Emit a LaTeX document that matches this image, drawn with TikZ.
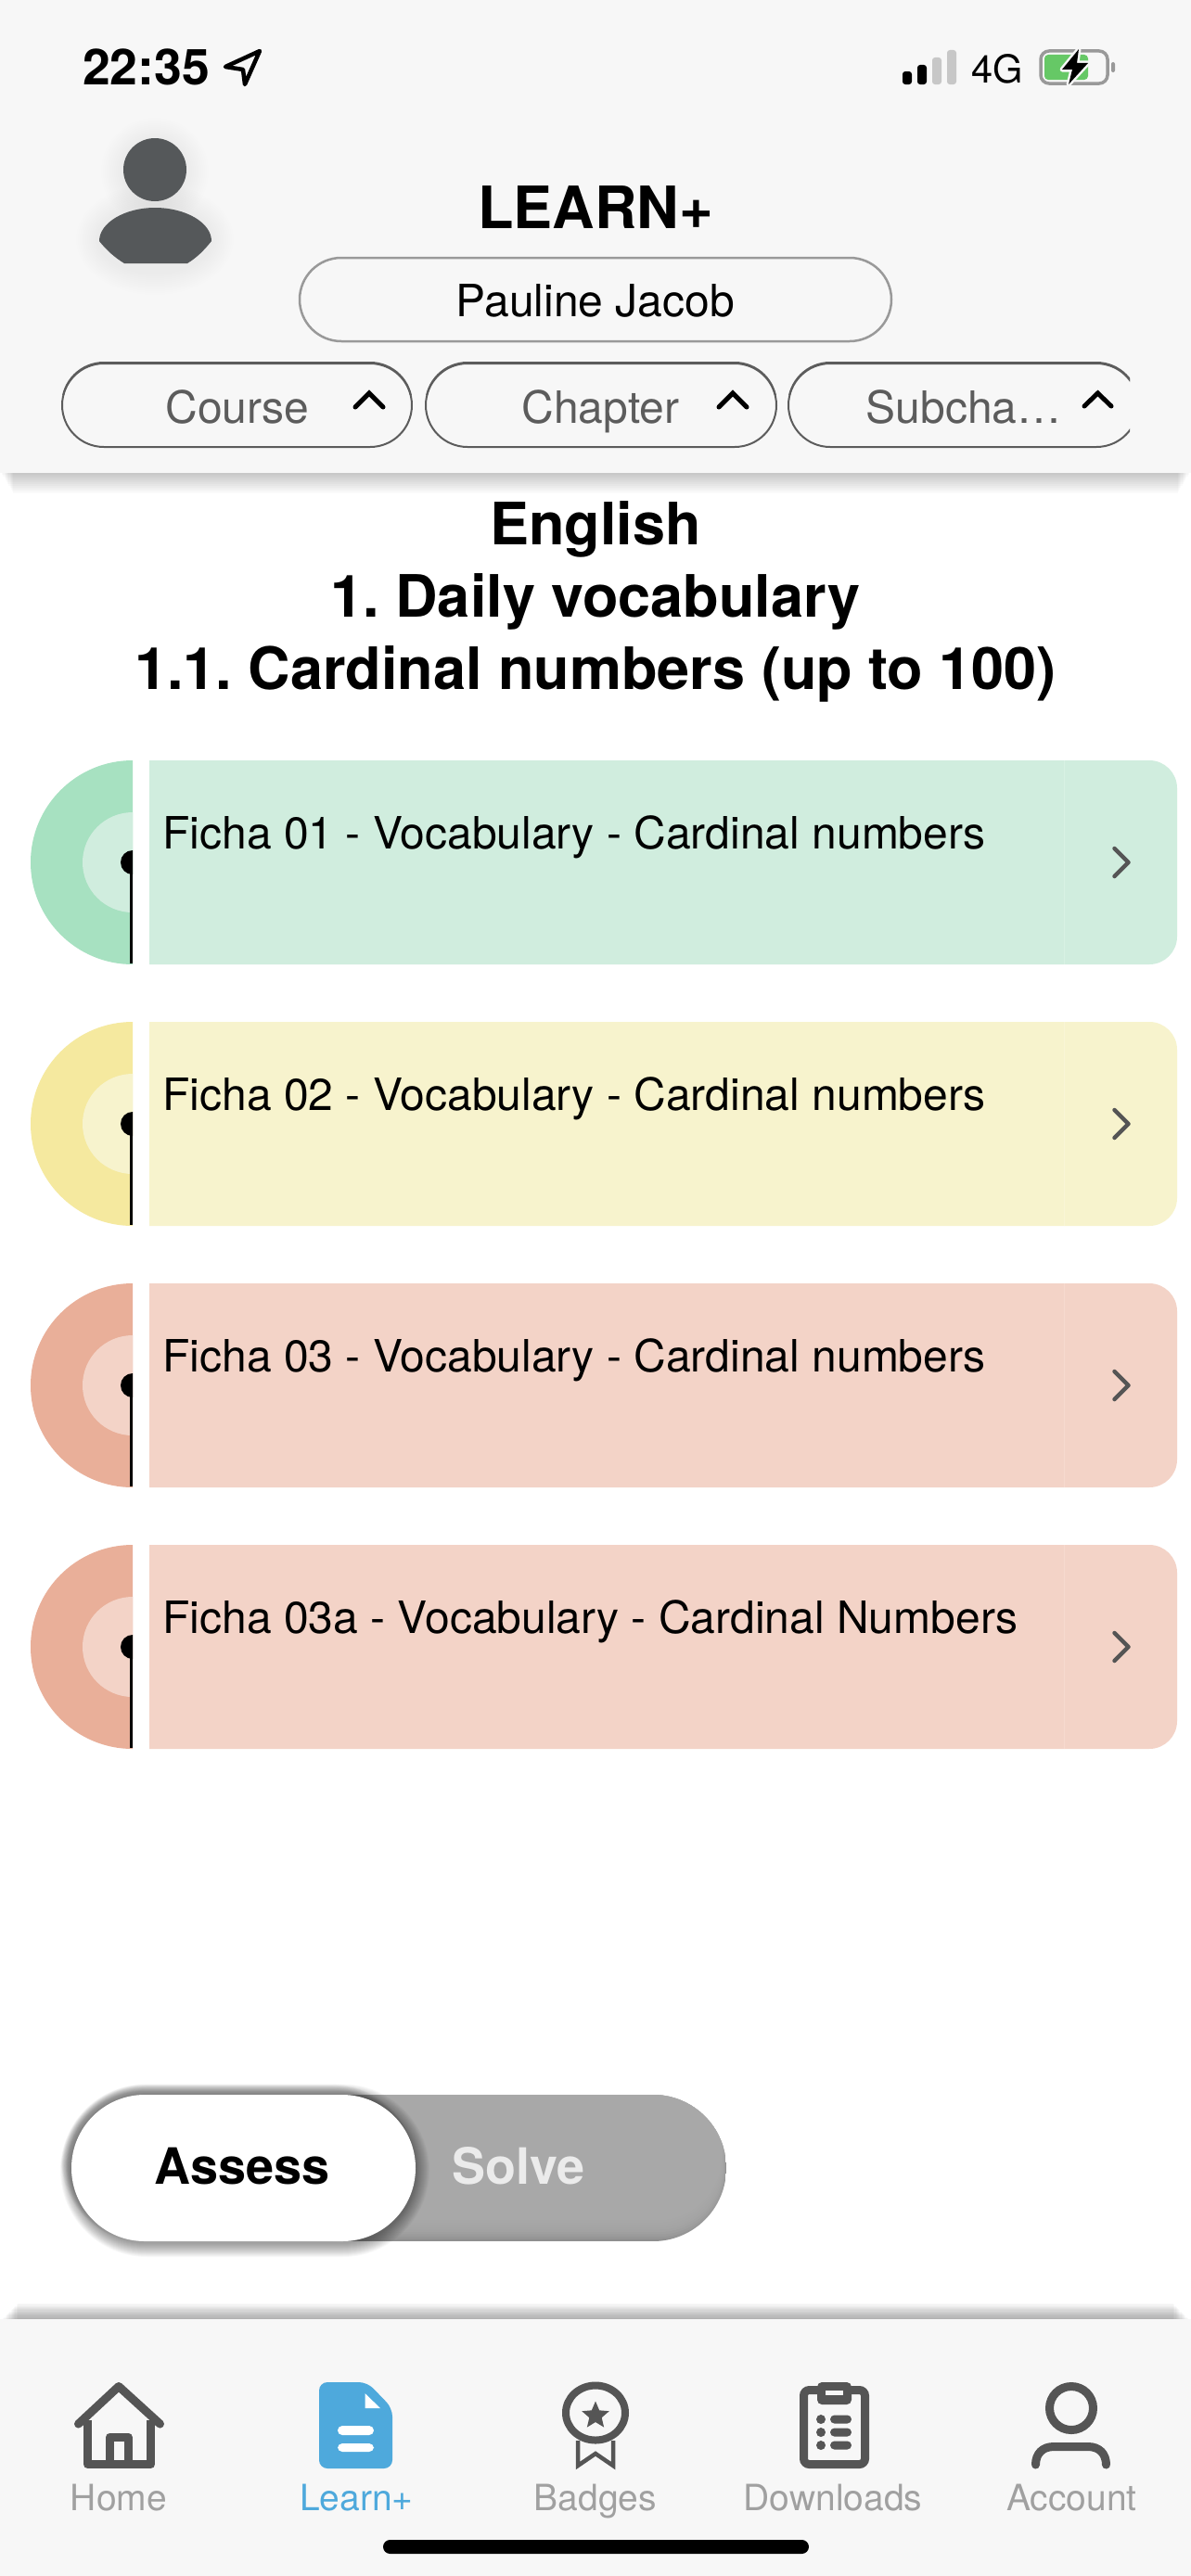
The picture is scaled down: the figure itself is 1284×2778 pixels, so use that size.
\documentclass[tikz,border=0pt]{standalone}
\usepackage{fontspec}
\setmainfont{TeX Gyre Heros}
\usetikzlibrary{shapes.geometric}
\definecolor{barbg}{HTML}{F7F7F7}
\definecolor{pillgray}{HTML}{5C5C5C}
\definecolor{pauline}{HTML}{999999}
\definecolor{icon}{HTML}{555555}
\definecolor{tablabel}{HTML}{A0A0A0}
\definecolor{tabblue}{HTML}{4EA9DC}
\definecolor{avatar}{HTML}{55585A}
\definecolor{battgreen}{HTML}{66C866}
\definecolor{greenA}{HTML}{A7E1C1}
\definecolor{greenB}{HTML}{D0EDDE}
\definecolor{greenL}{HTML}{D8F1E4}
\definecolor{yellowA}{HTML}{F5E99F}
\definecolor{yellowB}{HTML}{F7F3CD}
\definecolor{yellowL}{HTML}{F9F5D6}
\definecolor{redA}{HTML}{E9AF99}
\definecolor{redB}{HTML}{F3D3C7}
\definecolor{redL}{HTML}{F6DACF}
\newcommand\fs[1]{\fontsize{#1}{#1}\selectfont}
\tikzset{
  x=1pt,y=-1pt,
  txt/.style={inner sep=0pt,outer sep=0pt,anchor=base},
  txtw/.style={inner sep=0pt,outer sep=0pt,anchor=base west},
  pilltext/.style={txt,text=pillgray,font=\fs{48}},
  pillbox/.style={draw=pillgray,line width=2pt,rounded corners=45pt},
  chev/.style={line width=5pt,line cap=round,line join=miter,draw=black},
  title/.style={txt,font=\fs{63}\bfseries,text=black},
  ficha/.style={txtw,font=\fs{48},text=black},
  tab/.style={txt,font=\fs{39},text=tablabel},
  ico/.style={draw=icon,line width=9pt,line join=round,line cap=round},
}
% #1 left x, #2 right x, #3 clip right x
\newcommand\pillshape[3]{%
  \begin{scope}
    \clip (#1-10,380) rectangle (#3,495);
    \draw[pillbox] (#1,392) rectangle (#2,482);
    \begin{scope}
      \clip (#1-10,380) rectangle (#3,425);
      \draw[pillbox] (#1,391) rectangle (#2,482);
    \end{scope}
  \end{scope}
}
% #1 top y, #2 outer colour, #3 card colour, #4 divider colour, #5 text, #6 name
\newcommand\cardrow[6]{%
  \begin{scope}
    \clip (0,#1-10) rectangle (143,#1+230);
    \fill[#2] (143,#1+110) circle[radius=110pt];
    \fill[#3] (143,#1+110) circle[radius=54pt];
    \fill[black] (143,#1+110) circle[radius=13pt];
  \end{scope}
  \fill[black] (139.5,#1+110) rectangle (143,#1+219);
  \begin{scope}
    \clip (161,#1) rectangle (1269,#1+220);
    \fill[#3,rounded corners=30pt] (100,#1) rectangle (1269,#1+220);
    \draw[#4,line width=1pt] (1147,#1) -- (1147,#1+220);
  \end{scope}
  \node[ficha] (#6) at (175.5,#1+95) {#5};
  \draw[line width=4.5pt,line cap=round,line join=round,draw=icon]
    (1201.5,#1+95) -- (1216.5,#1+110) -- (1201.5,#1+125);
}
\begin{document}
\frenchspacing
\begin{tikzpicture}
\useasboundingbox (0,0) rectangle (1284,2778);
\fill[white] (0,0) rectangle (1284,2778);
% header shadow
\foreach \i in {1,...,11} {\fill[black,opacity=.018] (1+\i*1.2,490) rectangle (1283-\i*1.2,510+\i*2);}
\fill[barbg] (0,0) rectangle (1284,510);
% status bar
\node[txtw,font=\fs{53.5}\bfseries] (clock) at (89,91) {22:35};
\draw[line width=4.5pt,line join=round,draw=black] (280,55) -- (243,72) -- (262,75) -- (264,91) -- cycle;
\fill[black,rounded corners=3pt] (973,77) rectangle (983,91);
\fill[black,rounded corners=3pt] (989,70) rectangle (999,91);
\fill[black!22,rounded corners=3pt] (1005,62) rectangle (1015,91);
\fill[black!22,rounded corners=3pt] (1021,54) rectangle (1031,91);
\node[txtw,font=\fs{41.5}] (net) at (1047,89) {4G};
\draw[black!40,line width=3.5pt,rounded corners=9pt] (1122,55) rectangle (1194,90);
\fill[black!40,rounded corners=2pt] (1198,67) rectangle (1202,78);
\fill[battgreen,rounded corners=4pt] (1126,59) rectangle (1173,86);
\draw[barbg,line width=5pt,line join=round,fill=black] (1163,53) -- (1145,75) -- (1156,75) -- (1152,91) -- (1173,68) -- (1161,68) -- cycle;
\fill[black] (1163,53) -- (1145,75) -- (1156,75) -- (1152,91) -- (1173,68) -- (1161,68) -- cycle;
% avatar
\foreach \i in {2,4,...,24} {
  \fill[black,opacity=.003] (167,185) circle[radius={34pt+\i pt}];
  \fill[black,opacity=.004] (167,258) ellipse[x radius={61pt+\i pt},y radius={36pt+\i pt}];
}
\fill[avatar] (167,183) circle[radius=34pt];
\fill[avatar] (107,260) .. controls (107,240) and (135,224) .. (167,224) .. controls (200,224) and (228,240) .. (228,260)
   .. controls (220,270) and (212,278) .. (202,284) -- (134,284) .. controls (124,278) and (115,270) .. (107,260) -- cycle;
% title
\node[txt,font=\fs{63}\bfseries] (learn) at (642,246) {LEARN+};
\draw[pauline,line width=2.5pt,rounded corners=45pt] (323,278) rectangle (961,368);
\node[txt,font=\fs{48}] (name) at (642,341) {Pauline Jacob};
% pills
\pillshape{67}{444}{460}
\node[pilltext] (course) at (256,456) {Course};
\draw[chev] (383,439) -- (398,424) -- (413,439);
\pillshape{459}{837}{848}
\node[pilltext] (chapter) at (647.5,456) {Chapter};
\draw[chev] (775,439) -- (790,424) -- (805,439);
\pillshape{850}{1227}{1218}
\node[pilltext] (subcha) at (1039,456) {Subcha…};
\draw[chev] (1169,438) -- (1183.5,424) -- (1198,438);
% headings
\node[title] (h1) at (642,587) {English};
\node[title] (h2) at (642,665) {1. Daily vocabulary};
\node[title] (h3) at (642,743) {1.1. Cardinal numbers (up to 100)};
% cards
\cardrow{820}{greenA}{greenB}{greenL}{Ficha 01 - Vocabulary - Cardinal numbers}{f1}
\cardrow{1102}{yellowA}{yellowB}{yellowL}{Ficha 02 - Vocabulary - Cardinal numbers}{f2}
\cardrow{1384}{redA}{redB}{redL}{Ficha 03 - Vocabulary - Cardinal numbers}{f3}
\cardrow{1666}{redA}{redB}{redL}{Ficha 03a - Vocabulary - Cardinal Numbers}{f4}
% toggle
\begin{scope}
  \clip[rounded corners=79pt] (300,2259) rectangle (783,2417);
  \fill[black!44] (300,2259) rectangle (783,2417);
  \foreach \d in {1,...,12} {
    \fill[black!33,opacity=.25,rounded corners=70pt] (250,2200) rectangle (783-\d*.5,2417-\d*2.5);
  }
\end{scope}
\foreach \i in {1,...,15} {
  \fill[black,opacity=.026,rounded corners={79pt+\i pt}] (77-\i*.8,2261-\i*.9) rectangle (448+\i,2419+\i);
}
\foreach \i in {1,...,12} {
  \fill[black,opacity=.02,rounded corners={79pt+\i pt}] (74-\i*.7,2256-\i*.7) rectangle (440+\i*.7,2410+\i*.7);
}
\fill[white,rounded corners=79pt] (77,2259) rectangle (448,2417);
\node[txt,font=\fs{54}\bfseries] (assess) at (261,2355) {Assess};
\node[txt,font=\fs{54}\bfseries,text=black!8] (solve) at (559,2355) {Solve};
% tab bar
\foreach \i in {1,...,14} {\fill[black,opacity=.022] (2+\i*1.2,2501-\i*1.2) rectangle (1282-\i*1.2,2520);}
\fill[barbg] (0,2501) rectangle (1284,2778);
\fill[black,rounded corners=7.5pt] (413,2739) rectangle (872,2754);
% home
\draw[ico] (84.5,2614) -- (128,2573.5) -- (172.5,2614);
\draw[icon,line width=9pt,line join=round] (94.5,2610) -- (94.5,2657.5) -- (162.5,2657.5) -- (162.5,2610);
\draw[icon,line width=9pt,line join=round] (118.5,2657) -- (118.5,2628) -- (138,2628) -- (138,2657);
% learn doc
\fill[tabblue,rounded corners=9pt] (344,2569) -- (396,2569) -- (423,2597) -- (423,2662) -- (344,2662) -- cycle;
\fill[white] (393.5,2581) -- (393.5,2597) -- (410,2597) -- cycle;
\fill[white,rounded corners=5pt] (364,2616) rectangle (403,2626);
\fill[white,rounded corners=5pt] (364,2635) rectangle (403,2644);
% badge
\draw[icon,line width=8pt] (642,2602) ellipse[x radius=32pt,y radius=29.5pt];
\node[star,star points=5,star point ratio=2.2,fill=icon,inner sep=0pt,minimum size=31pt] (badgestar) at (642,2605) {};
\draw[icon,line width=4.5pt,line join=miter] (623,2632) -- (623,2659) -- (642,2646) -- (661,2659) -- (661,2632);
% downloads
\draw[icon,line width=9pt,rounded corners=6pt] (866.5,2577.5) rectangle (932.5,2657.5);
\fill[icon,rounded corners=5pt] (881,2569) rectangle (918,2593);
\fill[barbg] (890,2578) rectangle (909,2583);
\foreach \yy in {2609,2623,2637} {
  \fill[icon] (885,\yy) circle[radius=5pt];
  \fill[icon,rounded corners=4.5pt] (895,\yy-4.5) rectangle (918,\yy+4.5);
}
% account
\draw[icon,line width=9pt] (1155,2597) ellipse[x radius=23.5pt,y radius=23.5pt];
\draw[ico] (1116.5,2658) .. controls (1116.5,2646) and (1124,2638.5) .. (1136,2638.5) -- (1173,2638.5) .. controls (1185,2638.5) and (1192.5,2646) .. (1192.5,2658);
% tab labels
\node[tab] (home) at (128,2707) {Home};
\node[tab,text=tabblue] (learntab) at (384.5,2707) {Learn+};
\node[tab] (badges) at (642,2707) {Badges};
\node[tab] (downloads) at (898,2707) {Downloads};
\node[tab] (account) at (1155.5,2707) {Account};
\end{tikzpicture}
\end{document}
